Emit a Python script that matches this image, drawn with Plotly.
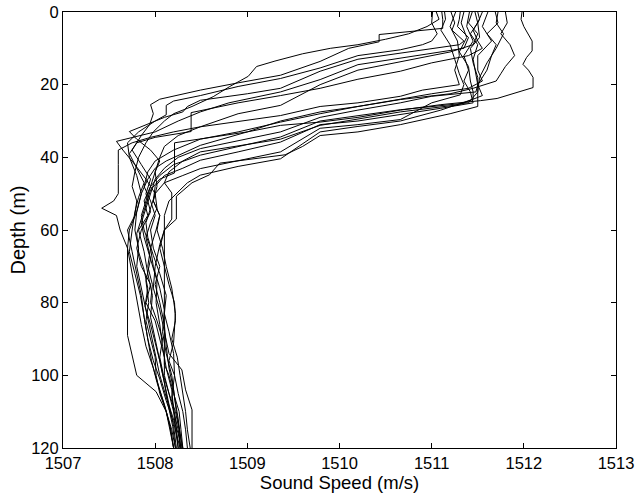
import plotly.graph_objects as go

# Sound speed casts: (depth m, sound speed m/s) pairs per cast
cast01 = [(0, 1511.11), (2, 1511.12), (4.5, 1511.12), (5.7, 1510.61), (6.2, 1510.43), (8.2, 1510.43),
          (10, 1510.1), (13.6, 1509.79), (17.4, 1509.36), (19.5, 1508.9), (21.5, 1508.49), (24, 1508.05),
          (25.5, 1507.95), (28, 1507.98), (31, 1507.94), (34, 1507.85), (38, 1507.75), (42, 1507.85),
          (46, 1507.95), (50, 1507.9), (55, 1507.95), (60, 1507.85), (65, 1507.8), (70, 1507.85),
          (75, 1507.95), (80, 1507.9), (85, 1508.0), (90, 1508.05), (95, 1508.1), (100, 1508.1),
          (105, 1508.15), (110, 1508.2), (115, 1508.25), (120, 1508.28)]
cast02 = [(0, 1511.01), (3, 1511.0), (6, 1511.06), (8, 1511.0), (9, 1510.9), (10.4, 1510.66), (12, 1510.2),
          (15.4, 1509.79), (18.3, 1509.36), (20.5, 1508.9), (23, 1508.49), (24.5, 1508.2), (25.7, 1508.12),
          (28.3, 1508.12), (30, 1508.0), (33, 1507.82), (36, 1507.7), (40, 1507.72), (45, 1507.8),
          (50, 1507.85), (55, 1507.8), (60, 1507.72), (65, 1507.7), (72, 1507.75), (80, 1507.8),
          (86, 1507.85), (92, 1507.9), (98, 1507.98), (104, 1508.05), (110, 1508.12), (115, 1508.18),
          (120, 1508.22)]
cast03 = [(0, 1511.21), (3, 1511.25), (5, 1511.22), (8, 1511.35), (9, 1511.3), (11.3, 1510.66), (13, 1510.2),
          (16.3, 1509.79), (21, 1509.36), (22.5, 1509.0), (24.3, 1508.49), (26, 1508.35), (27.5, 1508.3),
          (29, 1508.1), (31, 1507.9), (32.9, 1507.72), (35, 1507.8), (38, 1507.95), (41, 1508.05),
          (44, 1508.0), (48, 1507.95), (52, 1507.88), (56, 1507.92), (60, 1507.82), (66, 1507.88),
          (72, 1507.92), (78, 1507.97), (84, 1507.95), (90, 1508.0), (96, 1508.05), (102, 1508.1),
          (108, 1508.15), (114, 1508.2), (120, 1508.23)]
cast04 = [(0, 1511.31), (2, 1511.3), (4, 1511.28), (7, 1511.4), (10, 1511.35), (11, 1511.1), (12.7, 1510.66),
          (14.5, 1510.2), (18.6, 1509.79), (22, 1509.36), (25, 1508.8), (27.5, 1508.49), (30, 1508.25),
          (33, 1508.0), (35.6, 1507.58), (38, 1507.65), (42, 1507.78), (46, 1507.9), (50, 1508.0),
          (54, 1508.02), (58, 1507.95), (62, 1507.9), (68, 1507.95), (74, 1507.9), (80, 1507.93),
          (85, 1507.9), (90, 1507.95), (95, 1508.0), (100, 1508.01), (105, 1508.05), (110, 1508.12),
          (115, 1508.16), (120, 1508.2)]
cast05 = [(0, 1511.44), (3, 1511.4), (6, 1511.5), (9, 1511.45), (11, 1511.2), (13.6, 1510.66), (16, 1510.2),
          (20, 1509.79), (25.7, 1509.36), (28, 1508.9), (31.6, 1508.49), (33, 1508.2), (34.5, 1507.95),
          (36, 1507.75), (38, 1507.6), (42, 1507.6), (46, 1507.6), (50, 1507.6), (52, 1507.55),
          (54, 1507.42), (56, 1507.58), (60, 1507.62), (65, 1507.7), (70, 1507.7), (80, 1507.7),
          (89, 1507.7), (100, 1507.8), (104.5, 1508.01), (110, 1508.12), (115, 1508.17), (120, 1508.2)]
cast06 = [(0, 1511.5), (2, 1511.52), (5, 1511.45), (8, 1511.5), (10, 1511.55), (12, 1511.4), (14, 1511.0),
          (16.3, 1510.66), (18.5, 1510.2), (21, 1509.79), (23, 1509.36), (25, 1508.9), (27.7, 1508.39),
          (32.9, 1508.39), (34.5, 1508.0), (36, 1507.8), (39, 1507.72), (43, 1507.8), (47, 1507.88),
          (51, 1507.82), (55, 1507.78), (60, 1507.75), (66, 1507.72), (72, 1507.78), (78, 1507.84),
          (84, 1507.88), (90, 1507.92), (96, 1507.98), (101, 1508.05), (107, 1508.12), (113, 1508.2),
          (120, 1508.27)]
cast07 = [(0, 1511.98), (2, 1511.97), (4, 1512.0), (8, 1512.09), (10.7, 1512.09), (12.5, 1512.03),
          (14.4, 1511.99), (16, 1512.05), (18, 1512.1), (20.8, 1512.1), (23.8, 1511.71), (24.4, 1511.53),
          (25.5, 1511.1), (27, 1510.66), (29, 1510.2), (30.3, 1509.79), (31.2, 1509.36), (33, 1509.0),
          (36.7, 1508.49), (39, 1508.3), (41, 1508.12), (43, 1508.0), (46, 1507.92), (50, 1507.85),
          (55, 1507.8), (60, 1507.78), (65, 1507.82), (70, 1507.8), (76, 1507.85), (82, 1507.9),
          (88, 1507.95), (94, 1508.0), (100, 1508.05), (106, 1508.12), (112, 1508.2), (116, 1508.25),
          (120, 1508.28)]
cast08 = [(0, 1511.8), (3, 1511.82), (6, 1511.75), (9, 1511.85), (12, 1511.9), (15, 1511.8), (17, 1511.75),
          (19, 1511.7), (21, 1511.45), (22.5, 1511.2), (24.1, 1510.66), (26, 1510.2), (28, 1509.79),
          (30.3, 1509.36), (33, 1508.9), (35, 1508.49), (38, 1508.2), (41, 1508.0), (44, 1507.92),
          (48, 1507.88), (52, 1507.95), (56, 1508.0), (60, 1507.95), (65, 1507.98), (70, 1508.05),
          (75, 1508.0), (80, 1508.05), (86, 1508.1), (92, 1508.12), (98, 1508.15), (104, 1508.2),
          (110, 1508.23), (116, 1508.27), (120, 1508.3)]
cast09 = [(0, 1511.69), (3, 1511.72), (6, 1511.6), (9, 1511.7), (12, 1511.65), (16, 1511.6), (20, 1511.5),
          (22, 1511.48), (23.2, 1511.0), (25, 1510.66), (27, 1510.2), (29, 1509.79), (33, 1509.36),
          (35.5, 1508.9), (37.6, 1508.49), (40, 1508.25), (43, 1508.1), (46, 1508.0), (50, 1507.95),
          (54, 1507.9), (58, 1507.85), (62, 1507.88), (68, 1507.95), (74, 1508.02), (80, 1508.01),
          (86, 1508.05), (92, 1508.08), (98, 1508.12), (104, 1508.18), (110, 1508.2), (115, 1508.22),
          (120, 1508.25)]
cast10 = [(0, 1511.61), (4, 1511.55), (8, 1511.65), (12, 1511.5), (16, 1511.5), (19, 1511.55), (21, 1511.4),
          (22.5, 1511.0), (24, 1510.66), (26, 1510.2), (27.5, 1509.79), (30, 1509.36), (33, 1509.0),
          (35, 1508.5), (36, 1508.21), (44.3, 1508.21), (46, 1508.05), (49, 1507.95), (53, 1507.9),
          (57, 1507.85), (61, 1507.8), (66, 1507.82), (71, 1507.88), (76, 1507.92), (81, 1507.89),
          (86, 1507.95), (91, 1508.0), (96, 1508.05), (102, 1508.1), (108, 1508.14), (114, 1508.19),
          (120, 1508.22)]
cast11 = [(0, 1511.55), (3, 1511.5), (7, 1511.52), (10, 1511.42), (14, 1511.45), (18, 1511.5), (22, 1511.5),
          (25, 1511.4), (26.9, 1510.66), (28.5, 1510.2), (30, 1509.79), (34.4, 1509.36), (37, 1508.9),
          (39.4, 1508.49), (42, 1508.2), (45, 1508.05), (48, 1507.95), (52, 1507.9), (56, 1507.85),
          (60, 1507.88), (65, 1507.95), (70, 1507.92), (75, 1507.97), (80, 1507.95), (85, 1508.02),
          (90, 1508.08), (95, 1508.05), (100, 1508.09), (105, 1508.15), (110, 1508.22), (115, 1508.26),
          (120, 1508.27)]
cast12 = [(0, 1511.41), (4, 1511.38), (8, 1511.45), (12, 1511.35), (16, 1511.4), (19, 1511.35), (22, 1511.42),
          (25, 1511.45), (26.5, 1511.1), (28.3, 1510.66), (30, 1510.2), (31, 1509.79), (35.8, 1509.36),
          (38.5, 1508.9), (40.8, 1508.49), (43, 1508.3), (45, 1508.1), (48, 1508.0), (52, 1507.98),
          (56, 1508.05), (60, 1508.01), (65, 1507.95), (70, 1507.98), (76, 1508.05), (82, 1508.1),
          (88, 1508.08), (94, 1508.12), (100, 1508.18), (106, 1508.21), (112, 1508.25), (120, 1508.29)]
cast13 = [(0, 1511.14), (2, 1511.15), (5, 1511.1), (9, 1511.2), (13, 1511.25), (17, 1511.3), (20, 1511.35),
          (22.8, 1511.31), (25, 1511.0), (29.6, 1510.66), (31, 1510.2), (32, 1509.79), (38.5, 1509.36),
          (41, 1508.9), (43.1, 1508.49), (45, 1508.3), (47, 1508.1), (50, 1508.0), (54, 1507.95),
          (58, 1507.9), (62, 1507.92), (67, 1507.98), (72, 1508.05), (78, 1508.12), (83, 1508.1),
          (88, 1508.15), (94, 1508.2), (100, 1508.21), (106, 1508.18), (112, 1508.22), (120, 1508.25)]
cast14 = [(0, 1511.35), (3, 1511.32), (7, 1511.38), (11, 1511.3), (15, 1511.4), (19, 1511.42), (22, 1511.45),
          (24, 1511.45), (27, 1511.1), (30, 1510.66), (31.5, 1510.2), (33, 1509.79), (40.4, 1509.36),
          (42.5, 1508.9), (44.9, 1508.49), (47, 1508.35), (52, 1508.15), (56, 1508.1), (97, 1508.1),
          (100, 1508.15), (105, 1508.2), (110, 1508.26), (115, 1508.28), (120, 1508.3)]
cast15 = [(0, 1511.72), (3, 1511.7), (6, 1511.78), (10, 1511.7), (14, 1511.6), (18, 1511.52), (22, 1511.5),
          (26, 1511.5), (28, 1511.2), (31, 1510.66), (33, 1510.2), (34, 1509.79), (37, 1509.6),
          (39.3, 1509.41), (41.6, 1508.7), (44.8, 1508.59), (47, 1508.4), (50.7, 1508.23), (57, 1508.23),
          (60, 1508.1), (64, 1508.05), (70, 1508.0), (76, 1507.98), (82, 1508.05), (88, 1508.1),
          (94, 1508.15), (98.5, 1508.29), (104, 1508.33), (109.5, 1508.4), (120, 1508.4)]
cast16 = [(0, 1511.26), (4, 1511.2), (8, 1511.28), (12, 1511.3), (16, 1511.25), (20, 1511.3), (21.5, 1510.9),
          (23.2, 1510.66), (25, 1510.2), (26, 1509.79), (28.5, 1509.36), (31.6, 1508.49), (34, 1508.25),
          (37, 1508.1), (40, 1508.05), (44, 1508.0), (48, 1508.02), (52, 1507.98), (56, 1508.05),
          (60, 1508.02), (65, 1508.08), (70, 1508.12), (76, 1508.18), (83, 1508.22), (91, 1508.2),
          (96, 1508.15), (100, 1508.21), (105, 1508.25), (110, 1508.3), (115, 1508.33), (120, 1508.35)]
cast17 = [(0, 1511.05), (2, 1511.08), (4, 1510.95), (6, 1510.75), (7.5, 1510.5), (9, 1510.2), (10, 1509.9),
          (11.5, 1509.6), (13.5, 1509.3), (15, 1509.1), (17.7, 1509.01), (20.5, 1508.81), (23.3, 1508.63),
          (26, 1508.4), (28, 1508.2), (30, 1508.1), (33, 1507.98), (36, 1507.9), (40, 1507.82),
          (44, 1507.78), (48, 1507.75), (52, 1507.8), (56, 1507.78), (60, 1507.7), (66, 1507.75),
          (72, 1507.8), (78, 1507.85), (84, 1507.88), (90, 1507.92), (96, 1507.96), (102, 1508.02),
          (108, 1508.1), (114, 1508.16), (120, 1508.2)]
cast18 = [(0, 1511.47), (3, 1511.5), (6, 1511.42), (9, 1511.5), (13, 1511.45), (17, 1511.48), (20, 1511.5),
          (23, 1511.55), (25.5, 1511.3), (27.5, 1510.66), (29.5, 1510.2), (31.2, 1509.79), (35, 1509.36),
          (38.5, 1508.49), (41, 1508.3), (44, 1508.15), (47, 1508.1), (49.8, 1508.18), (57, 1508.18),
          (60, 1508.1), (65, 1508.05), (70, 1508.1), (75, 1508.15), (80, 1508.21), (85, 1508.22),
          (90, 1508.18), (95, 1508.24), (100, 1508.27), (105, 1508.3), (110, 1508.33), (115, 1508.35),
          (120, 1508.38)]

casts = [cast01, cast02, cast03, cast04, cast05, cast06, cast07, cast08, cast09,
         cast10, cast11, cast12, cast13, cast14, cast15, cast16, cast17, cast18]

x_ticks = [1507, 1508, 1509, 1510, 1511, 1512, 1513]
y_ticks = [0, 20, 40, 60, 80, 100, 120]

FONT = "Liberation Sans, Arial, Helvetica, sans-serif"

fig = go.Figure()
for cast in casts:
    depth = [p[0] for p in cast]
    speed = [p[1] for p in cast]
    fig.add_trace(go.Scatter(x=speed, y=depth, mode="lines",
                             line=dict(color="black", width=1),
                             showlegend=False, hoverinfo="skip"))

axis_style = dict(showline=True, linecolor="black", linewidth=1, mirror="ticks",
                  ticks="inside", ticklen=5, tickwidth=1, tickcolor="black",
                  showgrid=False, zeroline=False, automargin=False,
                  tickfont=dict(family=FONT, size=16.5, color="black"))

fig.update_layout(
    width=636, height=497,
    margin=dict(l=63, r=20, t=12, b=49),
    paper_bgcolor="white", plot_bgcolor="white",
    xaxis=dict(range=[1507, 1513], tickvals=x_ticks, ticktext=[str(v) for v in x_ticks],
               title=dict(text="Sound Speed (m/s)", font=dict(family=FONT, size=18.5, color="black"),
                          standoff=0),
               **axis_style),
    yaxis=dict(range=[120, 0], tickvals=y_ticks, ticktext=[str(v) for v in y_ticks],
               title=dict(text="Depth (m)", font=dict(family=FONT, size=20, color="black"),
                          standoff=0),
               **axis_style),
)

fig.write_html("out.html")
